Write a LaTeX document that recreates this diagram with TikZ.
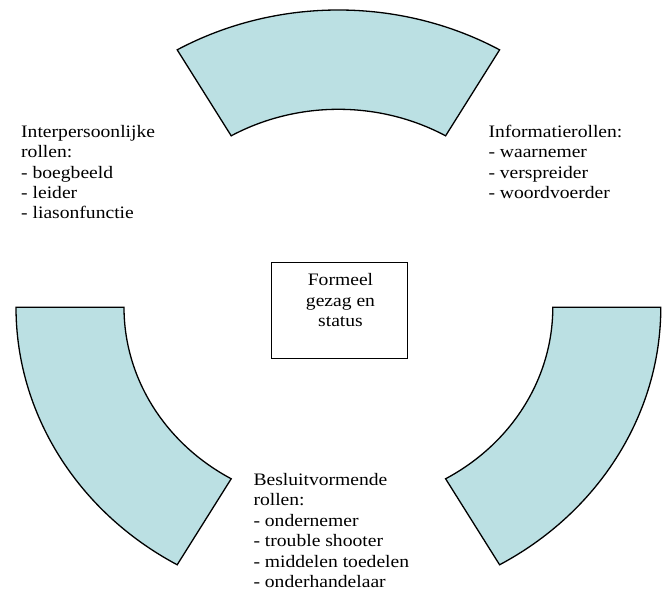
\documentclass[tikz,border=0pt]{standalone}
\usepackage{fontspec}
\setmainfont{Liberation Serif}[FakeStretch=1.12]
\usetikzlibrary{calc}
\definecolor{arcfill}{RGB}{187,224,227}
% one band of the ring: outer ellipse arc, radial edge, inner arc back
\newcommand\ringband[3]{%
  \draw[band] ($(c)+(#2:322.4 and 297.3)$) coordinate (#1)
    arc[start angle=#2, end angle=#3, x radius=322.4, y radius=297.3]
    -- ($(c)+(#3:214.4 and 198)$)
    arc[start angle=#3, end angle=#2, x radius=214.4, y radius=198] -- cycle;}
\begin{document}
\begin{tikzpicture}[x=1pt, y=1pt,
  band/.style={draw=black, line width=1.3pt, fill=arcfill, line join=miter},
  txt/.style={inner sep=0pt, align=left, anchor=base west,
    font=\fontsize{17.5}{20.4}\selectfont},
  centerbox/.style={draw=black, line width=1pt, inner sep=0pt,
    minimum width=136pt, minimum height=96.7pt}]
\useasboundingbox (0,0) rectangle (667,592);
\coordinate (c) at (338.4,284.7);

% the three bands of the ring
\ringband{topband}{60}{120}
\ringband{leftband}{180}{240}
\ringband{rightband}{300}{360}

% centre (base anchors sit on the last line of each text)
\node[centerbox] (box) at (339.7,281.35) {};
\node[txt, align=center, anchor=base] (boxtext) at (340.5,265.3)
  {Formeel\\gezag en\\status};

% role lists
\node[txt] (interpersonal) at (21,373)
  {Interpersoonlijke\\rollen:\\- boegbeeld\\- leider\\- liasonfunctie};
\node[txt] (information) at (488.3,393.4)
  {Informatierollen:\\- waarnemer\\- verspreider\\- woordvoerder};
\node[txt] (decision) at (253.3,4.5)
  {Besluitvormende\\rollen:\\- ondernemer\\- trouble shooter\\- middelen toedelen\\- onderhandelaar};
\end{tikzpicture}
\end{document}
